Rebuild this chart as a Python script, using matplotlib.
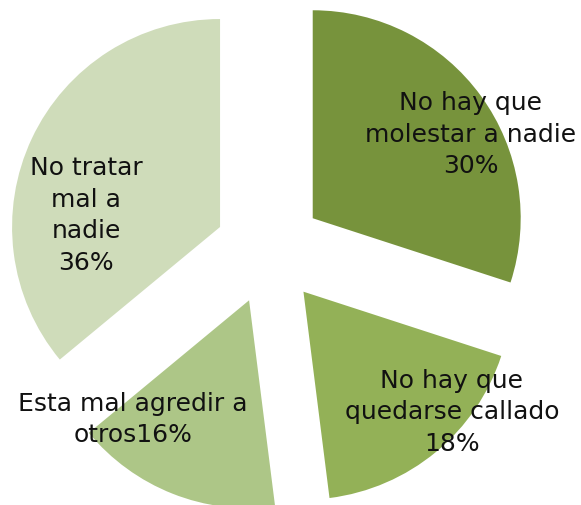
import matplotlib.pyplot as plt

categories = ['No hay que\nmolestar a nadie', 'No hay que\nquedarse callado',
              'Esta mal agredir a\notros', 'No tratar\nmal a\nnadie']
values = [30, 18, 16, 36]
label_text = ['No hay que\nmolestar a nadie\n30%', 'No hay que\nquedarse callado\n18%',
              'Esta mal agredir a\notros16%', 'No tratar\nmal a\nnadie\n36%']
colors = ['#77933C', '#93B157', '#ADC687', '#CFDCBA']

# where the labels sit (data units, radius = 1)
label_pos = [(0.97, 0.56), (0.88, -0.775), (-0.655, -0.81), (-0.88, 0.17)]

fig = plt.figure(figsize=(5.81, 5.06), dpi=100)
ax = fig.add_axes([0, 0, 1, 1])
ax.pie(values, colors=colors, startangle=90, counterclock=False,
       explode=[0.26] * 4, radius=1, wedgeprops=dict(linewidth=0))
for txt, (x, y) in zip(label_text, label_pos):
    ax.text(x, y, txt, ha='center', va='center', fontsize=18,
            family='DejaVu Sans', color='#111111', linespacing=1.4)

ax.set_xlim(-1.293, 1.5)
ax.set_ylim(-1.226, 1.207)
ax.set_aspect('equal')
ax.axis('off')
fig.savefig('out.png', dpi=100)
